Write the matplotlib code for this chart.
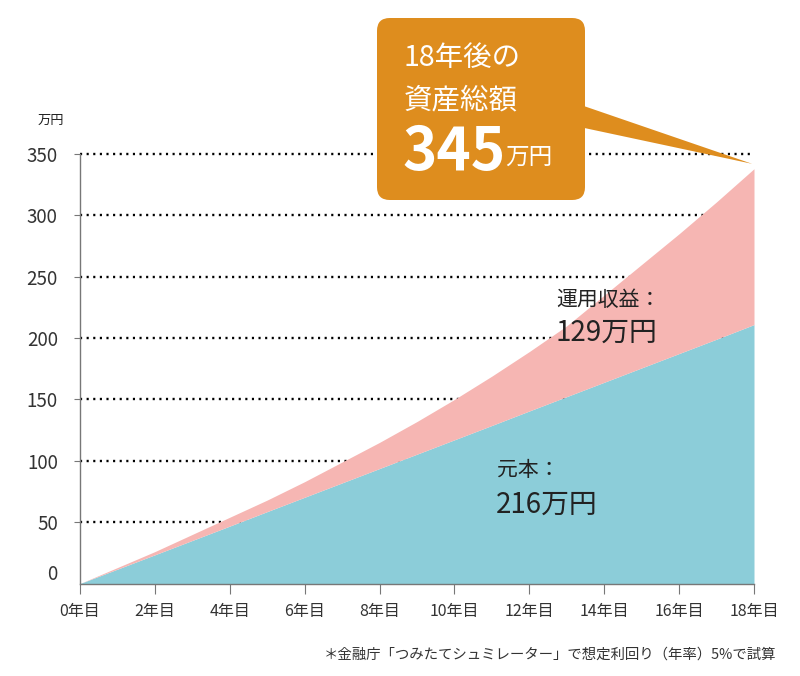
import matplotlib
matplotlib.use("Agg")
import matplotlib.pyplot as plt
import matplotlib.transforms as mtransforms
from matplotlib.patches import FancyBboxPatch, Polygon
import numpy as np

plt.rcParams['font.family'] = ['Noto Sans CJK JP', 'DejaVu Sans']

# values (万円)
years = list(range(19))
principal = [0, 11.7, 23.4, 35.1, 46.8, 58.6, 70.3, 82.0, 93.7, 105.4,
             117.1, 128.8, 140.6, 152.3, 164.0, 175.7, 187.4, 199.1, 211.0]
total = [0, 13, 26, 40, 54, 68, 83, 99, 115, 132,
         150, 169, 189, 210, 235, 260, 285, 311, 338]
final_total = 345
yticks = [0, 50, 100, 150, 200, 250, 300, 350]
xticks = list(range(0, 19, 2))
xlabels = [f"{x}年目" for x in xticks]

BLUE = "#8ccdd9"
PINK = "#f6b6b3"
ORANGE = "#de8d1e"
TXT = "#222222"

W, H = 800, 676
fig = plt.figure(figsize=(8, 6.76), dpi=100)
ax = fig.add_axes([80 / W, 1 - 583.5 / H, (754 - 80) / W, (583.5 - 154) / H])
ax.set_xlim(0, 18)
ax.set_ylim(0, 350)

# dotted grid
for v in yticks[1:]:
    ax.axhline(v, color="black", lw=1.7, ls=(0, (0.9, 1.9)), zorder=1, clip_on=False)

ax.fill_between(years, 0, principal, color=BLUE, lw=0, zorder=2)
ax.fill_between(years, principal, total, color=PINK, lw=0, zorder=2)

for s in ["top", "right"]:
    ax.spines[s].set_visible(False)
for s in ["left", "bottom"]:
    ax.spines[s].set_color("#777777")
    ax.spines[s].set_linewidth(1.0)
    ax.spines[s].set_zorder(3)

ax.set_yticks(yticks)
ax.set_yticklabels([str(v) for v in yticks])
ax.set_xticks(xticks)
ax.set_xticklabels(xlabels)
ax.tick_params(axis="y", length=4, width=0.8, color="#777777", pad=12,
               labelsize=13.5, labelcolor="#333333")
ax.tick_params(axis="x", length=7, width=0.8, color="#777777", pad=7,
               labelsize=11.5, labelcolor="#333333")
# "0" label sits a little above the axis
lab0 = ax.get_yticklabels()[0]
lab0.set_transform(lab0.get_transform() + mtransforms.ScaledTranslation(0, 11 / 100, fig.dpi_scale_trans))
ax.get_yticklines()[0].set_visible(False)

fig.text(38 / W, 1 - 120 / H, "万円", fontsize=9.5, color=TXT, va="center")

# stack labels
ax.text(556 / W, 1 - 300 / H, "運用収益：", transform=fig.transFigure,
        fontsize=15, color=TXT, va="center")
ax.text(555 / W, 1 - 333 / H, "129万円", transform=fig.transFigure,
        fontsize=20, color=TXT, va="center")
ax.text(497 / W, 1 - 470 / H, "元本：", transform=fig.transFigure,
        fontsize=15, color=TXT, va="center")
ax.text(496 / W, 1 - 505 / H, "216万円", transform=fig.transFigure,
        fontsize=20, color=TXT, va="center")

# callout
tip = fig.transFigure.inverted().transform(ax.transData.transform((17.95, final_total - 3)))
tri = Polygon([(575 / W, 1 - 103 / H), (575 / W, 1 - 126 / H), tuple(tip)],
              closed=True, transform=fig.transFigure, facecolor=ORANGE,
              edgecolor="none", zorder=5, clip_on=False)
fig.add_artist(tri)
box = FancyBboxPatch((377 / W, 1 - 200 / H), 208 / W, 182 / H,
                     boxstyle="round,pad=0,rounding_size=0.016",
                     mutation_aspect=W / H, transform=fig.transFigure,
                     facecolor=ORANGE, edgecolor="none", zorder=5)
fig.add_artist(box)
fig.text(404 / W, 1 - 58 / H, "18年後の", color="white", fontsize=20.5,
         va="center", zorder=6)
fig.text(404 / W, 1 - 100 / H, "資産総額", color="white", fontsize=20.5,
         va="center", zorder=6)
fig.text(402 / W, 1 - 153 / H, f"{final_total}", color="white", fontsize=42,
         fontweight="bold", va="center", zorder=6)
fig.text(505 / W, 1 - 157 / H, "万円", color="white", fontsize=17,
         va="center", zorder=6)

fig.text(776 / W, 1 - 655 / H, "＊金融庁「つみたてシュミレーター」で想定利回り（年率）5%で試算",
         fontsize=10.4, color="#333333", ha="right", va="center")

fig.savefig("out.png", dpi=100)
